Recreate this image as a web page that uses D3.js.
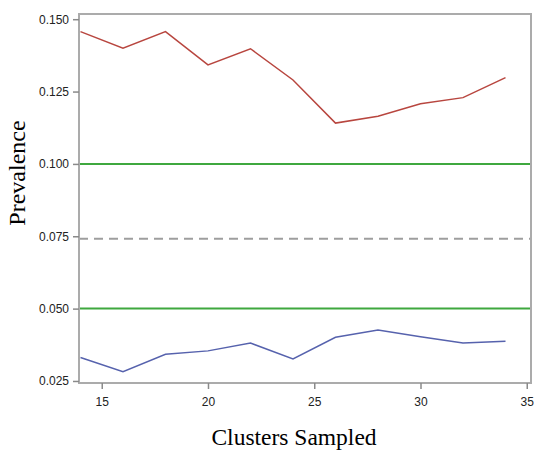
<!DOCTYPE html>
<html>
<head>
<meta charset="utf-8">
<script src="https://cdn.jsdelivr.net/npm/d3@7"></script>
<style>
  body { margin: 0; background: #fff; }
  .tick text { font-family: "Liberation Sans Narrow", "Liberation Sans", Arial, sans-serif; font-size: 12px; fill: #222; }
</style>
</head>
<body>
<script>
// data
var clusters = [14, 16, 18, 20, 22, 24, 26, 28, 30, 32, 34];
var upperPrev = [0.1457, 0.1400, 0.1457, 0.1342, 0.1398, 0.1290, 0.1141, 0.1165, 0.1208, 0.1229, 0.1298];
var lowerPrev = [0.0331, 0.0282, 0.0342, 0.0354, 0.0381, 0.0326, 0.0401, 0.0426, 0.0403, 0.0381, 0.0387];
var thresholds = [0.100, 0.050];
var truePrev = 0.0741;
var xTicks = [15, 20, 25, 30, 35];
var yTicks = [0.025, 0.050, 0.075, 0.100, 0.125, 0.150];

// set the dimensions and margins of the graph
var margin = {top: 14, right: 4, bottom: 67, left: 79},
    width = 535 - margin.left - margin.right,
    height = 450 - margin.top - margin.bottom;

var x = d3.scaleLinear().domain([13.93, 35.2]).range([0, width]);
var y = d3.scaleLinear().domain([0.0243, 0.1518]).range([height, 0]);

var svg = d3.select('body')
            .append('svg')
            .attr('width', 535)
            .attr('height', 450)
            .append("g")
            .attr("transform", "translate(" + margin.left + "," + margin.top + ")");

// reference lines
svg.selectAll('.thresh')
    .data(thresholds)
    .enter()
    .append('line')
    .attr('x1', 0).attr('x2', width)
    .attr('y1', function(d){ return y(d); })
    .attr('y2', function(d){ return y(d); })
    .style('stroke', '#3fa83f')
    .style('stroke-width', 2);

svg.append('line')
    .attr('x1', 0).attr('x2', width)
    .attr('y1', y(truePrev)).attr('y2', y(truePrev))
    .style('stroke', '#9e9e9e')
    .style('stroke-width', 2)
    .style('stroke-dasharray', '9,6');

// the two series
var line = d3.line()
    .x(function(d, i){ return x(clusters[i]); })
    .y(function(d){ return y(d); });

svg.append('path')
    .datum(upperPrev)
    .attr('d', line)
    .style('fill', 'none')
    .style('stroke', '#b8463f')
    .style('stroke-width', 1.5);

svg.append('path')
    .datum(lowerPrev)
    .attr('d', line)
    .style('fill', 'none')
    .style('stroke', '#5662ad')
    .style('stroke-width', 1.5);

// frame
svg.append('rect')
    .attr('x', 0).attr('y', 0)
    .attr('width', width).attr('height', height)
    .style('fill', 'none')
    .style('stroke', '#ababab')
    .style('stroke-width', 2);

// axes
var xAxis = svg.append("g")
    .attr("transform", "translate(0," + height + ")")
    .call(d3.axisBottom(x).tickValues(xTicks).tickSize(6).tickPadding(8));

var yAxis = svg.append("g")
    .call(d3.axisLeft(y).tickValues(yTicks).tickFormat(d3.format('.3f')).tickSize(6).tickPadding(4));

[xAxis, yAxis].forEach(function(a){
    a.select('.domain').remove();
    a.selectAll('.tick line').style('stroke', '#8a8a8a').style('stroke-width', 1.5);
});

// axis titles
svg.append("text")
    .attr("x", 294 - margin.left)
    .attr("y", 445 - margin.top)
    .style("text-anchor", "middle")
    .style("font-family", "'Liberation Serif', 'Times New Roman', serif")
    .style("font-size", "23.5px")
    .style("fill", "#000")
    .text("Clusters Sampled");

svg.append("text")
    .attr("transform", "rotate(-90)")
    .attr("x", -(173 - margin.top))
    .attr("y", 25 - margin.left)
    .style("text-anchor", "middle")
    .style("font-family", "'Liberation Serif', 'Times New Roman', serif")
    .style("font-size", "24px")
    .style("fill", "#000")
    .text("Prevalence");
</script>
</body>
</html>
